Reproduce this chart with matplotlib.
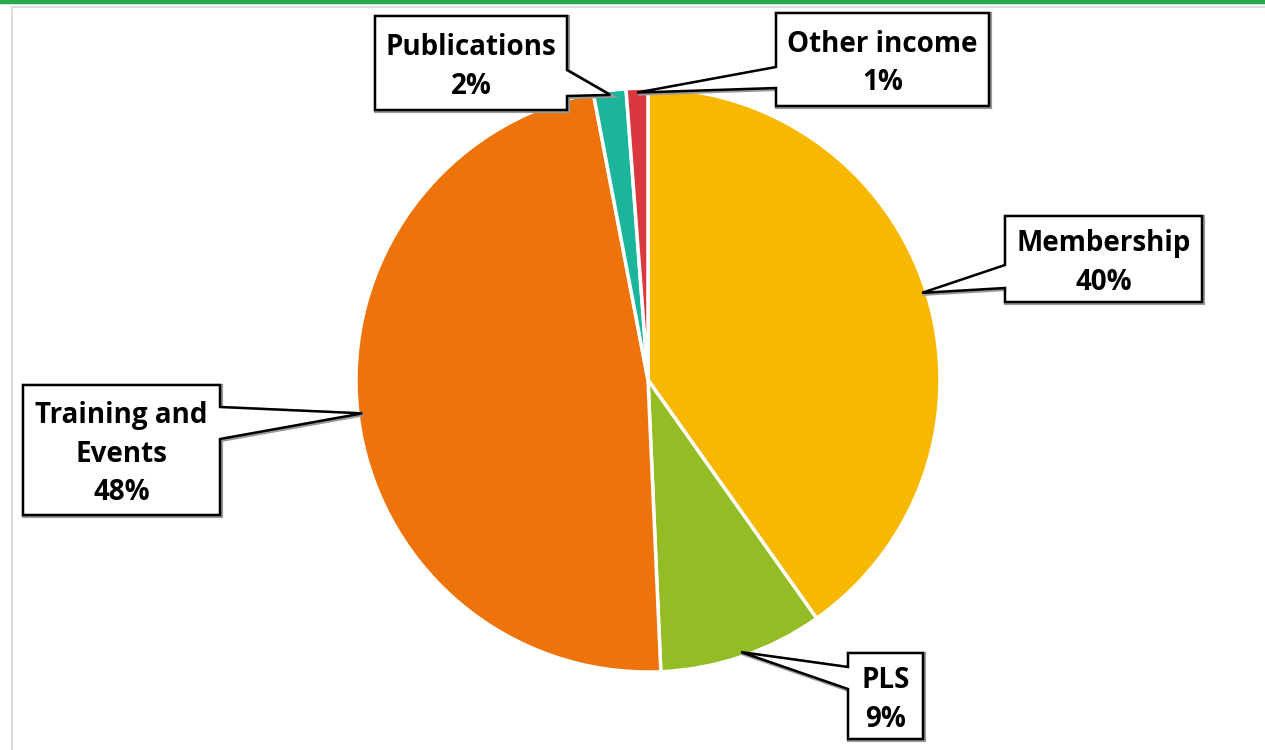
import matplotlib
matplotlib.use("Agg")
import matplotlib.pyplot as plt
import numpy as np
from matplotlib.patches import Polygon
from matplotlib.lines import Line2D

categories = ["Membership", "PLS", "Training and\nEvents", "Publications", "Other income"]
values = [40.2, 9.1, 47.7, 1.8, 1.2]
pct_labels = ["40%", "9%", "48%", "2%", "1%"]
colors = ["#F9B800", "#93BC25", "#EE730B", "#1BB59C", "#D9383E"]

W, H = 1265, 750
fig = plt.figure(figsize=(12.65, 7.5), dpi=100)
ax = fig.add_axes([0, 0, 1, 1])

cx, cy, R = 648, 380, 292
wedges, _ = ax.pie(values, colors=colors, startangle=90, counterclock=False,
                   center=(cx, H - cy), radius=R,
                   wedgeprops=dict(edgecolor="white", linewidth=2.5))
ax.set_xlim(0, W)
ax.set_ylim(0, H)
ax.set_aspect("equal")
ax.axis("off")

# frame lines
fig.add_artist(Line2D([0, 1], [1 - 1.5 / H, 1 - 1.5 / H], color="#2AA84A", lw=3.2))
fig.add_artist(Line2D([12 / W, 12 / W], [0, 1 - 7 / H], color="#DDDDDD", lw=1.6))
fig.add_artist(Line2D([12 / W, 1], [1 - 7 / H, 1 - 7 / H], color="#DDDDDD", lw=1.6))

# callout boxes (pixel coords, y down): x0, y0, x1, y1, pointer side, pointer base y0, y1
boxes = [
    (1005, 216, 1202, 302, "left", 265, 288),
    (848, 653, 923, 739, "left", 667, 689),
    (23, 385, 220, 515, "right", 407, 439),
    (375, 16, 567, 110, "right", 70, 96),
    (776, 13, 989, 106, "left", 67, 88),
]

font = dict(family=["Open Sans", "DejaVu Sans"], fontweight="bold", color="black")

for w, cat, pct, (x0, y0, x1, y1, side, b0, b1) in zip(wedges, categories, pct_labels, boxes):
    mid = np.deg2rad((w.theta1 + w.theta2) / 2)
    tx = cx + R * 0.985 * np.cos(mid)
    ty = (H - cy) + R * 0.985 * np.sin(mid)
    f = lambda y: H - y
    if side == "left":
        pts = [(x0, f(y0)), (x1, f(y0)), (x1, f(y1)), (x0, f(y1)), (x0, f(b1)), (tx, ty), (x0, f(b0))]
    else:
        pts = [(x0, f(y0)), (x1, f(y0)), (x1, f(b0)), (tx, ty), (x1, f(b1)), (x1, f(y1)), (x0, f(y1))]
    shadow = Polygon([(px + 1, py - 1) for px, py in pts], closed=True, facecolor="none",
                     edgecolor="#999999", lw=3, zorder=4, joinstyle="miter")
    ax.add_patch(shadow)
    poly = Polygon(pts, closed=True, facecolor="white", edgecolor="black", lw=1.8,
                   zorder=5, joinstyle="miter")
    ax.add_patch(poly)
    xc = (x0 + x1) / 2
    yc = H - (y0 + y1) / 2 - 4
    ax.text(xc, yc, cat + "\n" + pct, ha="center", va="center", fontsize=20,
            linespacing=1.42, zorder=6, **font)

fig.savefig("out.png", dpi=100)
